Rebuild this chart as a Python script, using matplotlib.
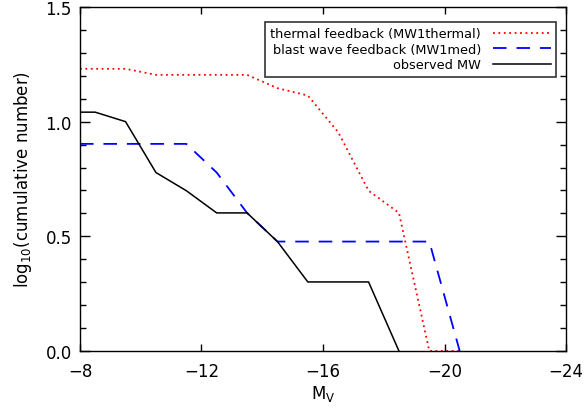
import numpy as np
import matplotlib
matplotlib.use("Agg")
import matplotlib.pyplot as plt
from matplotlib.ticker import MultipleLocator, FormatStrFormatter

# cumulative counts vs. magnitude bin edge (log10 of the counts is plotted)
mv_obs = [-8, -8.5, -9.5, -10.5, -11.5, -12.5, -13.5, -14.5, -15.5, -16.5, -17.5, -18.5]
n_obs = [11, 11, 10, 6, 5, 4, 4, 3, 2, 2, 2, 1]

mv_blast = [-8, -11.5, -12.5, -13.5, -14.5, -19.5, -20.5]
n_blast = [8, 8, 6, 4, 3, 3, 1]

mv_thermal = [-8, -9.5, -10.5, -13.5, -14.5, -15.5, -16.5, -17.5, -18.5, -19.5, -20.5]
n_thermal = [17, 17, 16, 16, 14, 13, 9, 5, 4, 1, 1]

fig = plt.figure(figsize=(5.86, 4.14), dpi=100)
ax = fig.add_axes([0.1365, 0.1498, 0.8294, 0.8309])

ax.plot(mv_thermal, np.log10(n_thermal), color="#ff0000", lw=1.3,
        linestyle=(0, (1, 2)), label="thermal feedback (MW1thermal)")
ax.plot(mv_blast, np.log10(n_blast), color="#0000ff", lw=1.3,
        linestyle=(0, (7.5, 5.5)), label="blast wave feedback (MW1med)")
ax.plot(mv_obs, np.log10(n_obs), color="black", lw=1.1, label="observed MW")

ax.set_xlim(-8, -24)
ax.set_ylim(0, 1.5)
ax.xaxis.set_major_locator(MultipleLocator(4))
ax.yaxis.set_major_locator(MultipleLocator(0.5))
ax.yaxis.set_minor_locator(MultipleLocator(0.1))
ax.yaxis.set_major_formatter(FormatStrFormatter("%.1f"))

ax.tick_params(axis="both", which="both", direction="in", top=True, right=True,
               labelsize=12, width=1)
ax.tick_params(axis="x", which="major", length=5, pad=8)
ax.tick_params(axis="y", which="major", length=7, pad=6)
ax.tick_params(axis="y", which="minor", length=4)
for s in ax.spines.values():
    s.set_linewidth(1)

ax.set_xlabel(r"M$_{\rm V}$", fontsize=12, labelpad=2)
ax.set_ylabel(r"log$_{10}$(cumulative number)", fontsize=12, labelpad=8)

leg = ax.legend(loc="upper right", bbox_to_anchor=(0.979, 0.956), fontsize=9.3,
                markerfirst=False, frameon=True, fancybox=False,
                borderaxespad=0, handlelength=4.5, handletextpad=0.9,
                borderpad=0.4, labelspacing=0.2)
leg.get_frame().set_edgecolor("black")
leg.get_frame().set_linewidth(1.2)
for t in leg.get_texts():
    t.set_ha("right")

fig.savefig("out.png", dpi=100)
